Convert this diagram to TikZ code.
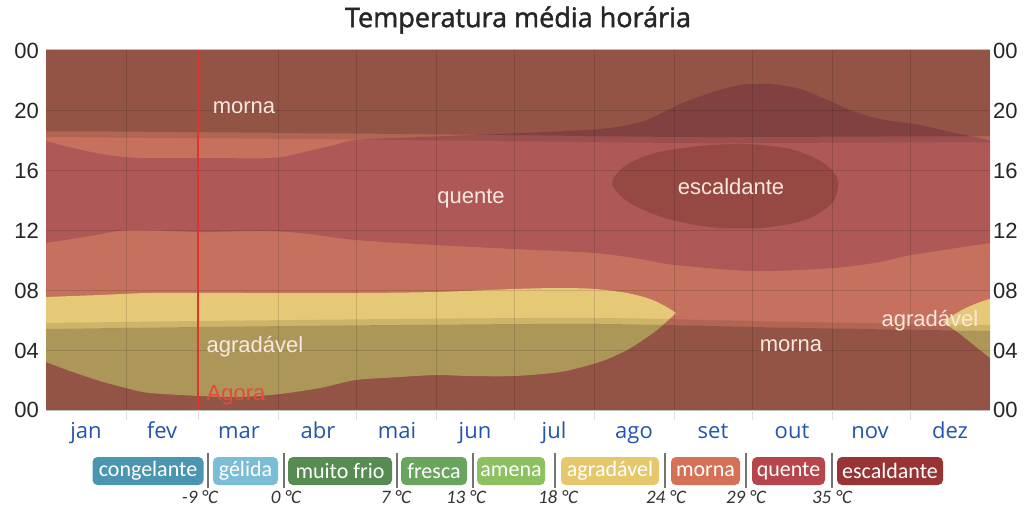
\documentclass[tikz,border=0pt]{standalone}
\usepackage{fontspec}
\setmainfont{Liberation Sans}
\newfontfamily\calib{Carlito}
\newfontfamily\ttlfont[AutoFakeBold=1.6]{Open Sans}
\newfontfamily\monfont{Open Sans}
\definecolor{cmorna}{RGB}{198,113,93}
\definecolor{cquente}{RGB}{174,88,88}
\definecolor{cescal}{RGB}{150,72,66}
\definecolor{cagrad}{RGB}{230,201,118}
\definecolor{clbl}{RGB}{248,232,224}
\definecolor{cmon}{RGB}{35,85,175}
\definecolor{cnow}{RGB}{222,52,42}
\definecolor{cagora}{RGB}{232,72,62}
\definecolor{lcong}{RGB}{74,150,176}
\definecolor{lgel}{RGB}{122,190,214}
\definecolor{lmuito}{RGB}{86,140,82}
\definecolor{lfresca}{RGB}{106,165,96}
\definecolor{lamena}{RGB}{140,192,96}
\definecolor{lagrad}{RGB}{230,200,108}
\definecolor{lmorna}{RGB}{212,113,86}
\definecolor{lquente}{RGB}{182,70,75}
\definecolor{lescal}{RGB}{152,52,52}
\tikzset{
  lbl/.style={anchor=base,text=clbl,font=\fontsize{22}{26}\selectfont,inner sep=0pt},
  axl/.style={anchor=east,text=black!85,font=\fontsize{22}{26}\selectfont,inner sep=0pt},
  axr/.style={anchor=west,text=black!85,font=\fontsize{22}{26}\selectfont,inner sep=0pt},
  mon/.style={anchor=base,text=cmon,font=\monfont\fontsize{22}{26}\selectfont,inner sep=0pt},
  leg/.style={rounded corners=5pt,minimum height=28pt,inner sep=0pt,text=white,font=\calib\fontsize{22}{26}\selectfont},
  tmp/.style={anchor=base,text=black!80,font=\calib\itshape\fontsize{19}{22}\selectfont,inner sep=0pt},
  gridln/.style={black,opacity=0.13,line width=1pt},
  sepln/.style={black!55,line width=1.3pt},
  nightov/.style={black,opacity=0.25},
  twiov/.style={black,opacity=0.1}
}
\begin{document}
\begin{tikzpicture}[x=1pt,y=-1pt]
\useasboundingbox (0,0) rectangle (1028,511);
\fill[white] (0,0) rectangle (1028,511);
\begin{scope}
\clip (46,50) rectangle (990,410);
\fill[cmorna] (46,50) rectangle (990,410);
% quente
\fill[cquente] plot[smooth] coordinates {(46,243) (90,236) (130,230) (200,232) (260,231) (300,233) (356,240) (436,245) (514,249) (595,253) (640,259) (675,265) (754,271) (833,268) (880,262) (911,255) (990,243)}
  -- plot[smooth] coordinates {(990,141) (975,137) (950,132) (920,125) (880,119) (850,110) (830,101) (800,89) (770,84) (740,85) (710,93) (680,104) (660,114) (640,122) (600,129) (500,134) (420,137) (356,140) (335,145) (300,153) (273,158) (200,158) (140,158) (107,155) (73,148) (46,141)} -- cycle;
% escaldante
\fill[cescal] plot[smooth cycle] coordinates {(612,184) (625,166) (655,153) (700,146) (745,144) (790,149) (822,162) (838,180) (832,203) (805,220) (760,228) (710,227) (665,218) (630,203)};
% agradavel
\fill[cagrad] plot[smooth] coordinates {(46,297) (100,295) (150,293) (250,293) (356,293) (436,292) (514,289) (560,288) (595,289) (627,293) (650,299) (665,306) (676,313)}
  -- plot[smooth] coordinates {(676,313) (657,330) (640,342) (627,350) (610,358) (593,364) (560,372) (514,376) (470,376) (436,375) (400,377) (356,380) (320,388) (280,394) (240,397) (200,396) (150,393) (130,389) (100,381) (70,371) (46,362)} -- cycle;
\fill[cagrad] plot[smooth] coordinates {(943,322) (960,311) (975,304) (992,298)} -- (992,358) -- plot[smooth] coordinates {(990,358) (975,346) (960,334) (943,322)} -- cycle;
% night and twilight
\fill[nightov] (40,40) -- (1000,40) -- plot[smooth] coordinates {(990,136) (700,137) (500,135) (300,133) (46,131)} -- (40,131) -- cycle;
\fill[twiov] plot[smooth] coordinates {(46,131) (300,133) (500,135) (700,137) (990,136)} -- plot[smooth] coordinates {(990,142) (700,143) (500,141) (300,139) (46,137)} -- cycle;
\fill[nightov] (40,420) -- (1000,420) -- plot[smooth] coordinates {(990,331) (800,328) (600,324) (400,325) (200,327) (46,329)} -- (40,329) -- cycle;
\fill[twiov] plot[smooth] coordinates {(46,329) (200,327) (400,325) (600,324) (800,328) (990,331)} -- plot[smooth] coordinates {(990,325) (800,322) (600,318) (400,319) (200,321) (46,323)} -- cycle;
% grid
\foreach \yy in {110,170,230,290,350} \draw[gridln] (46,\yy) -- (990,\yy);
\foreach \xx in {126.2,198.6,278.8,356.4,436.6,514.2,594.4,674.6,752.2,832.4,910} \draw[gridln] (\xx,50) -- (\xx,410);
\end{scope}
\foreach \xx in {126.2,198.6,278.8,356.4,436.6,514.2,594.4,674.6,752.2,832.4,910} \draw[black!12,line width=1pt] (\xx,410) -- (\xx,420);
% now line
\draw[cnow,line width=1.5pt] (198,50) -- (198,410);
% labels
\node[lbl] (lmorna1) at (244,113) {morna};
\node[lbl] (lquente) at (471,203) {quente};
\node[lbl] (lescal) at (731,194) {escaldante};
\node[lbl] (lagrad1) at (255,352) {agradável};
\node[lbl] (lmorna2) at (791,351) {morna};
\node[lbl] (lagrad2) at (930,326) {agradável};
\node[lbl,text=cagora] (lagora) at (236,400) {Agora};
% axes
\node[axl] (yl0) at (39,51) {00};
\node[axl] (yl1) at (39,111) {20};
\node[axl] (yl2) at (39,171) {16};
\node[axl] (yl3) at (39,231) {12};
\node[axl] (yl4) at (39,291) {08};
\node[axl] (yl5) at (39,351) {04};
\node[axl] (yl6) at (39,410) {00};
\node[axr] (yr0) at (993,51) {00};
\node[axr] (yr1) at (993,111) {20};
\node[axr] (yr2) at (993,171) {16};
\node[axr] (yr3) at (993,231) {12};
\node[axr] (yr4) at (993,291) {08};
\node[axr] (yr5) at (993,351) {04};
\node[axr] (yr6) at (993,410) {00};
% months
\node[mon] (m1) at (86,438) {jan};
\node[mon] (m2) at (162,438) {fev};
\node[mon] (m3) at (239,438) {mar};
\node[mon] (m4) at (318,438) {abr};
\node[mon] (m5) at (397,438) {mai};
\node[mon] (m6) at (475,438) {jun};
\node[mon] (m7) at (554,438) {jul};
\node[mon] (m8) at (634,438) {ago};
\node[mon] (m9) at (713,438) {set};
\node[mon] (m10) at (792,438) {out};
\node[mon] (m11) at (870,438) {nov};
\node[mon] (m12) at (950,438) {dez};
% title
\node[text=black!85,font=\ttlfont\bfseries\fontsize{27}{32}\selectfont,inner sep=0pt] (title) at (518,20) {Temperatura média horária};
% legend
\node[leg,fill=lcong,minimum width=111pt] (g1) at (148,471) {congelante};
\node[leg,fill=lgel,minimum width=65pt] (g2) at (245.5,471) {gélida};
\node[leg,fill=lmuito,minimum width=104pt] (g3) at (340,471) {muito frio};
\node[leg,fill=lfresca,minimum width=66pt] (g4) at (434,471) {fresca};
\node[leg,fill=lamena,minimum width=68pt] (g5) at (511,471) {amena};
\node[leg,fill=lagrad,minimum width=98pt] (g6) at (610,471) {agradável};
\node[leg,fill=lmorna,minimum width=69pt] (g7) at (705.5,471) {morna};
\node[leg,fill=lquente,minimum width=73pt] (g8) at (788.5,471) {quente};
\node[leg,fill=lescal,minimum width=106pt] (g9) at (890,471) {escaldante};
\foreach \xx in {208,284,397,473,555,665,746,832} \draw[sepln] (\xx,453) -- (\xx,488);
\node[tmp] (t1) at (200,503) {-9 °C};
\node[tmp] (t2) at (286,503) {0 °C};
\node[tmp] (t3) at (396,503) {7 °C};
\node[tmp] (t4) at (466,503) {13 °C};
\node[tmp] (t5) at (558,503) {18 °C};
\node[tmp] (t6) at (666,503) {24 °C};
\node[tmp] (t7) at (746,503) {29 °C};
\node[tmp] (t8) at (832,503) {35 °C};
\end{tikzpicture}
\end{document}
